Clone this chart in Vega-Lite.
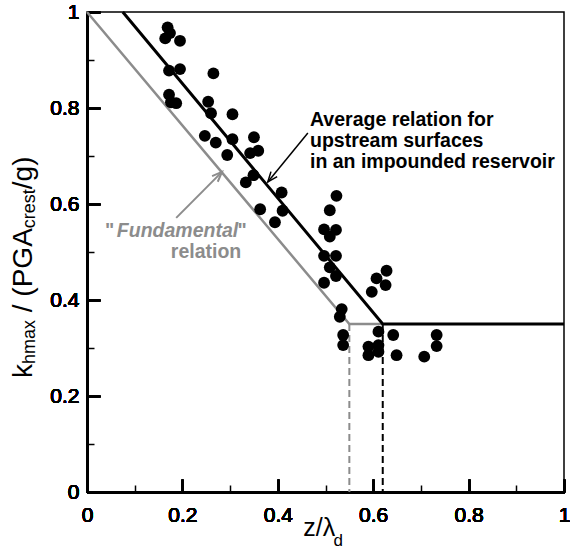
{
  "$schema": "https://vega.github.io/schema/vega-lite/v6.json",
  "width": 477,
  "height": 480,
  "autosize": {"type": "none"},
  "padding": {"left": 87, "top": 12, "right": 6, "bottom": 60},
  "background": "white",
  "config": {
    "view": {"stroke": "black", "strokeWidth": 1.5},
    "font": "Liberation Sans",
    "text": {"font": "Liberation Sans"}
  },
  "resolve": {"axis": {"x": "independent", "y": "independent"}},
  "encoding": {
    "x": {
      "field": "x", "type": "quantitative",
      "scale": {"domain": [0, 1], "nice": false, "zero": false},
      "axis": {
        "orient": "bottom",
        "values": [0, 0.2, 0.4, 0.6, 0.8, 1],
        "format": "~g",
        "tickSize": -13,
        "tickColor": "black", "tickWidth": 1.5,
        "domainColor": "black", "domainWidth": 2,
        "labelFont": "Liberation Sans", "labelFontSize": 21, "labelColor": "black",
        "labelFlush": false, "labelOverlap": false, "labelPadding": 25,
        "grid": false, "title": null
      }
    },
    "y": {
      "field": "y", "type": "quantitative",
      "scale": {"domain": [0, 1], "nice": false, "zero": false},
      "axis": {
        "orient": "left",
        "values": [0, 0.2, 0.4, 0.6, 0.8, 1],
        "format": "~g",
        "tickSize": -13,
        "tickColor": "black", "tickWidth": 1.5,
        "domainColor": "black", "domainWidth": 2,
        "labelFont": "Liberation Sans", "labelFontSize": 21, "labelColor": "black",
        "labelFlush": false, "labelOverlap": false, "labelPadding": 21,
        "grid": false, "title": null
      }
    }
  },
  "layer": [
    {
      "data": {"values": [{"x": 0.55, "y": 0.35}]},
      "mark": {"type": "rule", "color": "#8c8c8c", "strokeWidth": 2, "strokeDash": [7, 4]},
      "encoding": {
        "x": {
          "field": "x", "type": "quantitative",
          "scale": {"domain": [0, 1], "nice": false, "zero": false},
          "axis": {"orient": "bottom", "values": [0.1, 0.3, 0.5, 0.7, 0.9], "tickSize": -7, "tickColor": "black", "tickWidth": 1.5, "labels": false, "domain": false, "grid": false, "title": null}
        },
        "y": {
          "field": "y", "type": "quantitative",
          "scale": {"domain": [0, 1], "nice": false, "zero": false},
          "axis": {"orient": "left", "values": [0.1, 0.3, 0.5, 0.7, 0.9], "tickSize": -7, "tickColor": "black", "tickWidth": 1.5, "labels": false, "domain": false, "grid": false, "title": null}
        },
        "y2": {"datum": 0}
      }
    },
    {
      "data": {"values": [{"x": 0.62, "y": 0.35}]},
      "mark": {"type": "rule", "color": "black", "strokeWidth": 2, "strokeDash": [7, 4]},
      "encoding": {"y2": {"datum": 0}}
    },
    {
      "data": {"values": [{"x": 0, "y": 1}, {"x": 0.55, "y": 0.35}, {"x": 0.62, "y": 0.35}]},
      "mark": {"type": "line", "color": "#8c8c8c", "strokeWidth": 2.5},
      "encoding": {}
    },
    {
      "data": {"values": [{"x": 0.075, "y": 1}, {"x": 0.62, "y": 0.35}, {"x": 1, "y": 0.35}]},
      "mark": {"type": "line", "color": "black", "strokeWidth": 3},
      "encoding": {}
    },
    {
      "data": {"values": [
        {"x": 0.169, "y": 0.968}, {"x": 0.174, "y": 0.956}, {"x": 0.164, "y": 0.945}, {"x": 0.195, "y": 0.94},
        {"x": 0.172, "y": 0.878}, {"x": 0.195, "y": 0.881}, {"x": 0.265, "y": 0.872},
        {"x": 0.172, "y": 0.828}, {"x": 0.187, "y": 0.81}, {"x": 0.176, "y": 0.812},
        {"x": 0.254, "y": 0.813}, {"x": 0.26, "y": 0.789}, {"x": 0.305, "y": 0.787},
        {"x": 0.247, "y": 0.742}, {"x": 0.27, "y": 0.728}, {"x": 0.305, "y": 0.735}, {"x": 0.35, "y": 0.739},
        {"x": 0.294, "y": 0.702}, {"x": 0.342, "y": 0.706}, {"x": 0.359, "y": 0.711},
        {"x": 0.349, "y": 0.66}, {"x": 0.333, "y": 0.645}, {"x": 0.408, "y": 0.624},
        {"x": 0.363, "y": 0.589}, {"x": 0.41, "y": 0.586}, {"x": 0.394, "y": 0.562},
        {"x": 0.523, "y": 0.617}, {"x": 0.509, "y": 0.587}, {"x": 0.497, "y": 0.547}, {"x": 0.522, "y": 0.546},
        {"x": 0.509, "y": 0.532}, {"x": 0.497, "y": 0.492}, {"x": 0.522, "y": 0.492}, {"x": 0.509, "y": 0.468},
        {"x": 0.522, "y": 0.45}, {"x": 0.497, "y": 0.436}, {"x": 0.534, "y": 0.381}, {"x": 0.53, "y": 0.365},
        {"x": 0.537, "y": 0.327}, {"x": 0.537, "y": 0.306},
        {"x": 0.597, "y": 0.417}, {"x": 0.607, "y": 0.445}, {"x": 0.628, "y": 0.461}, {"x": 0.626, "y": 0.431},
        {"x": 0.611, "y": 0.334}, {"x": 0.642, "y": 0.327}, {"x": 0.59, "y": 0.303}, {"x": 0.611, "y": 0.306},
        {"x": 0.59, "y": 0.285}, {"x": 0.611, "y": 0.292}, {"x": 0.649, "y": 0.285},
        {"x": 0.707, "y": 0.282}, {"x": 0.733, "y": 0.327}, {"x": 0.733, "y": 0.304}
      ]},
      "mark": {"type": "point", "filled": true, "color": "black", "opacity": 1, "size": 140}
    },
    {
      "data": {"values": [{"x": 0.463, "y": 0.748, "x2": 0.379, "y2": 0.646}]},
      "mark": {"type": "rule", "color": "black", "strokeWidth": 1.5},
      "encoding": {"x2": {"field": "x2"}, "y2": {"field": "y2"}}
    },
    {
      "data": {"values": [{"x": 0.379, "y": 0.646}]},
      "mark": {"type": "point", "shape": "M-0.4,1L0,0L0.4,1", "filled": false, "color": "black", "strokeWidth": 1.5, "size": 400, "angle": 219, "opacity": 1}
    },
    {
      "data": {"values": [{"x": 0.187, "y": 0.571, "x2": 0.283, "y2": 0.667}]},
      "mark": {"type": "rule", "color": "#8c8c8c", "strokeWidth": 2},
      "encoding": {"x2": {"field": "x2"}, "y2": {"field": "y2"}}
    },
    {
      "data": {"values": [{"x": 0.283, "y": 0.667}]},
      "mark": {"type": "point", "shape": "M-0.4,1L0,0L0.4,1", "filled": false, "color": "#8c8c8c", "strokeWidth": 2, "size": 400, "angle": 45, "opacity": 1}
    },
    {
      "data": {"values": [
        {"x": 0.4675, "y": 0.763, "t": "Average relation for"},
        {"x": 0.4675, "y": 0.719, "t": "upstream surfaces"},
        {"x": 0.4675, "y": 0.676, "t": "in an impounded reservoir"}
      ]},
      "mark": {"type": "text", "fontSize": 19.5, "fontWeight": "bold", "align": "left", "baseline": "alphabetic", "color": "black"},
      "encoding": {"text": {"field": "t"}}
    },
    {
      "data": {"values": [{"x": 0.1897, "y": 0.5306, "t": "Fundamental"}]},
      "mark": {"type": "text", "fontSize": 19.5, "fontWeight": "bold", "fontStyle": "italic", "align": "center", "baseline": "alphabetic", "color": "#8c8c8c"},
      "encoding": {"text": {"field": "t"}}
    },
    {
      "data": {"values": [
        {"x": 0.0377, "y": 0.5306, "t": "\""},
        {"x": 0.3155, "y": 0.5306, "t": "\""},
        {"x": 0.1757, "y": 0.4869, "t": "relation"}
      ]},
      "mark": {"type": "text", "fontSize": 19.5, "fontWeight": "bold", "align": "left", "baseline": "alphabetic", "color": "#8c8c8c"},
      "encoding": {"text": {"field": "t"}, "align": {"condition": {"test": "datum.t == 'relation'", "value": "center"}, "value": "left"}}
    },
    {
      "data": {"values": [
        {"x": -0.1153, "y": 0.2375, "t": "k"},
        {"x": -0.1153, "y": 0.3746, "t": "/ (PGA"},
        {"x": -0.1153, "y": 0.6308, "t": "/g)"}
      ]},
      "mark": {"type": "text", "fontSize": 28, "angle": 270, "align": "left", "baseline": "alphabetic", "color": "black"},
      "encoding": {"text": {"field": "t"}}
    },
    {
      "data": {"values": [
        {"x": -0.109, "y": 0.2667, "t": "hmax"},
        {"x": -0.109, "y": 0.5496, "t": "crest"}
      ]},
      "mark": {"type": "text", "fontSize": 18, "angle": 270, "align": "left", "baseline": "alphabetic", "color": "black"},
      "encoding": {"text": {"field": "t"}}
    },
    {
      "data": {"values": [{"x": 0.4535, "y": -0.0917, "t": "z/λ"}]},
      "mark": {"type": "text", "fontSize": 25, "align": "left", "baseline": "alphabetic", "color": "black"},
      "encoding": {"text": {"field": "t"}}
    },
    {
      "data": {"values": [{"x": 0.517, "y": -0.113, "t": "d"}]},
      "mark": {"type": "text", "fontSize": 17, "align": "left", "baseline": "alphabetic", "color": "black"},
      "encoding": {"text": {"field": "t"}}
    }
  ]
}
